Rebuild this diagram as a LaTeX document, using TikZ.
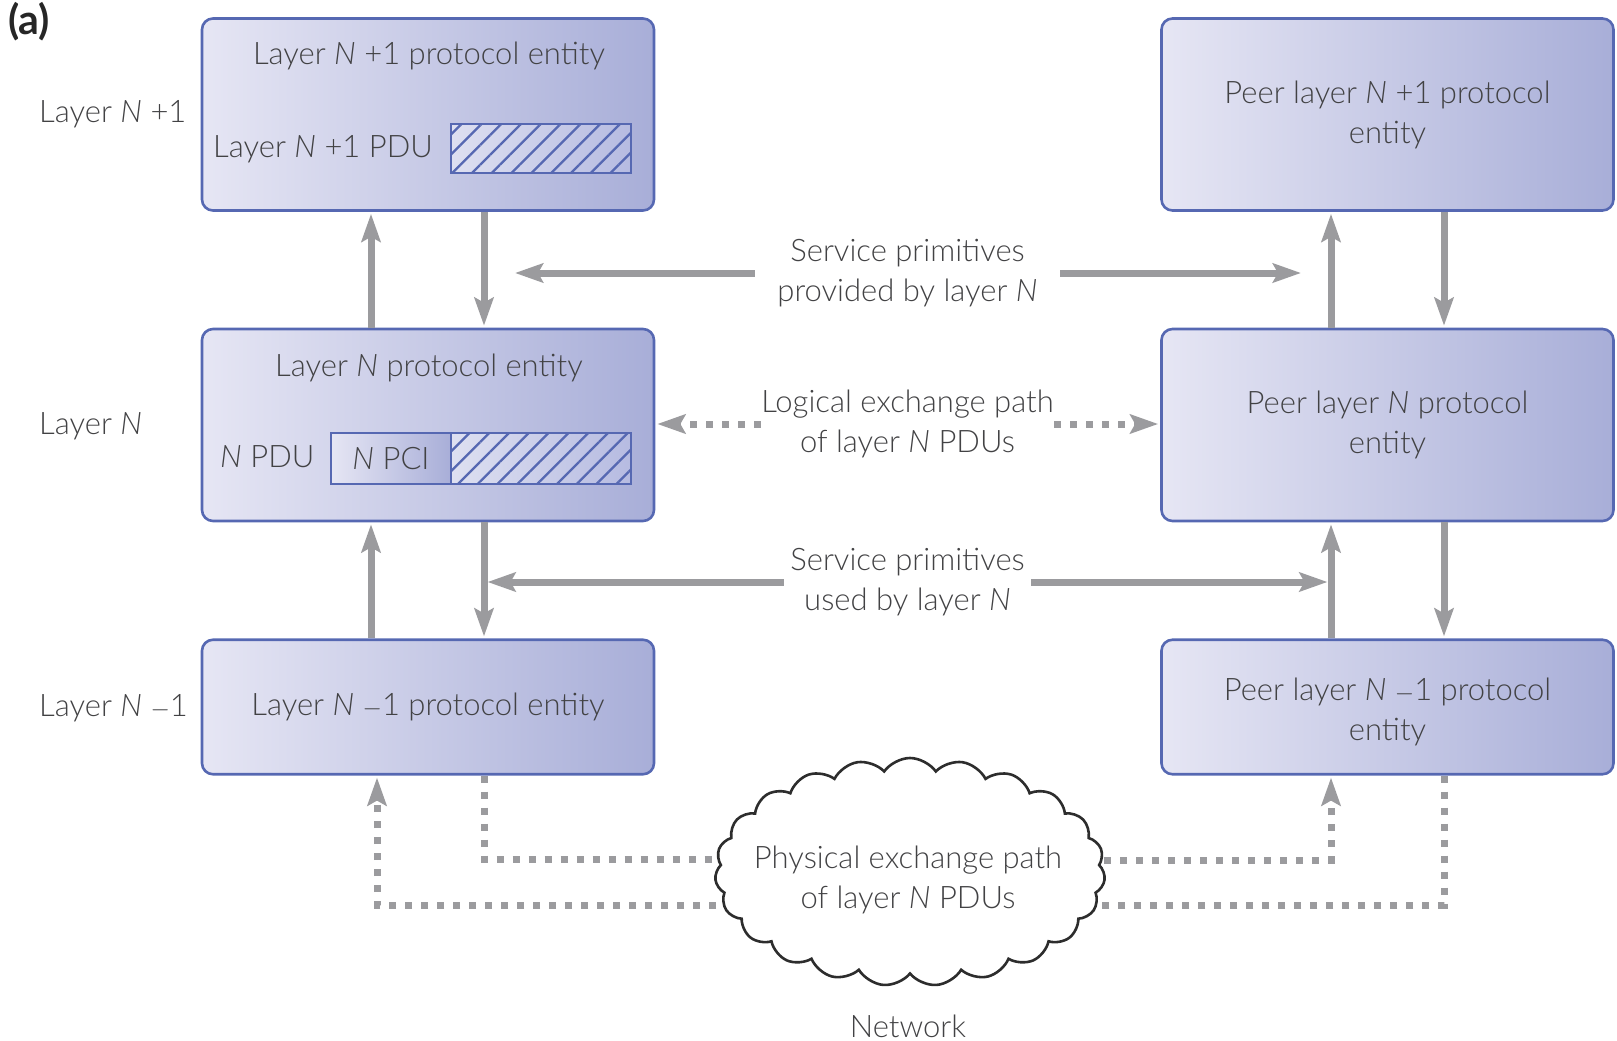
\documentclass[tikz,border=0pt]{standalone}
\usepackage{fontspec}
\setmainfont{Lato}[UprightFont=* Light, ItalicFont=* Light Italic, BoldFont=* Bold, BoldItalicFont=* Bold Italic]
\usetikzlibrary{arrows.meta,shapes.symbols,patterns.meta}

\definecolor{boxL}{RGB}{230,230,244}
\definecolor{boxR}{RGB}{168,174,216}
\definecolor{hatchL}{RGB}{222,224,241}
\definecolor{hatchR}{RGB}{182,187,225}
\definecolor{edge}{RGB}{86,104,178}
\definecolor{flow}{RGB}{155,155,158}
\definecolor{ink}{RGB}{66,66,68}
\definecolor{cloudink}{RGB}{45,45,45}

\newcommand\lblfont{\fontsize{31}{40}\selectfont}

\tikzset{
  entity/.style={rectangle, rounded corners=11pt, draw=edge, line width=2.6pt,
    left color=boxL, right color=boxR, minimum width=452pt, inner sep=0pt,
    font=\lblfont, text=ink, align=center},
  hatchbox/.style={rectangle, inner sep=0pt, left color=hatchL, right color=hatchR,
    postaction={pattern={Lines[angle=45,distance=14pt,line width=2.3pt]}, pattern color=edge},
    postaction={draw=edge, line width=2.6pt}},
  pcibox/.style={rectangle, inner sep=0pt, left color=boxL, right color=boxR,
    draw=edge, line width=2.6pt, font=\lblfont, text=ink},
  lbl/.style={font=\lblfont, text=ink, inner sep=0pt},
  caption/.style={font=\lblfont, text=ink, inner sep=0pt, align=center},
  solidflow/.style={draw=flow, line width=7pt,
    -{Stealth[length=28pt,width=19pt,inset=5pt]}, shorten >=2pt},
  dotline/.style={draw=flow, line width=7pt, dash pattern=on 7pt off 9pt},
  dotflow/.style={dotline, -{Stealth[length=28pt,width=19pt,inset=5pt]}, shorten >=2pt},
}

\begin{document}
\begin{tikzpicture}[x=1pt,y=-1pt]
\useasboundingbox (0,0) rectangle (1617,1041);

% columns of the vertical flows
\coordinate (uL) at (371,0);
\coordinate (dL) at (484,0);
\coordinate (inL) at (377,0);
\coordinate (uR) at (1331,0);
\coordinate (dR) at (1444,0);

% local protocol entities
\node[entity, minimum height=192pt] (A) at (428,114.5) {};
\node[entity, minimum height=192pt] (B) at (428,425) {};
\node[entity, minimum height=134.5pt] (C) at (428,707) {Layer \textit{N} $-$1 protocol entity};

% peer protocol entities
\node[entity, minimum height=192pt] (Ap) at (1387.5,114.5) {Peer layer \textit{N} +1 protocol\\entity};
\node[entity, minimum height=192pt] (Bp) at (1387.5,425) {Peer layer \textit{N} protocol\\entity};
\node[entity, minimum height=134.5pt] (Cp) at (1387.5,707) {};
\node[caption] (CpT) at (1387.5,712) {Peer layer \textit{N} $-$1 protocol\\entity};

% contents of the layer N+1 entity
\node[lbl, anchor=base] (AT) at (429,65) {Layer \textit{N} +1 protocol entity};
\node[lbl, anchor=base west] (AP) at (213,157) {Layer \textit{N} +1 PDU};
\node[hatchbox, minimum width=180pt, minimum height=49pt] (AH) at (541,148.5) {};

% contents of the layer N entity
\node[lbl, anchor=base] (BT) at (429,376) {Layer \textit{N} protocol entity};
\node[lbl, anchor=base west] (BP) at (220,467) {\textit{N} PDU};
\node[pcibox, minimum width=120pt, minimum height=51pt] (PCI) at (391,458.5) {};
\node[lbl, anchor=base] (PCIT) at (391,469) {\textit{N} PCI};
\node[hatchbox, minimum width=180pt, minimum height=51pt] (BH) at (541,458.5) {};

% layer names
\node[lbl, anchor=base west] (L1) at (39,122) {Layer \textit{N} +1};
\node[lbl, anchor=base west] (L0) at (39,434) {Layer \textit{N}};
\node[lbl, anchor=base west] (Lm) at (39,716) {Layer \textit{N} $-$1};
\node[anchor=base west, inner sep=0pt, font=\fontsize{41}{48}\selectfont\bfseries, text=black!85] (tag) at (8,35) {(a)};

% service primitive flows, local side
\draw[solidflow] (B.north -| uL) -- (A.south -| uL);
\draw[solidflow] (A.south -| dL) -- (B.north -| dL);
\draw[solidflow] (C.north -| uL) -- (B.south -| uL);
\draw[solidflow] (B.south -| dL) -- (C.north -| dL);

% service primitive flows, peer side
\draw[solidflow] (Bp.north -| uR) -- (Ap.south -| uR);
\draw[solidflow] (Ap.south -| dR) -- (Bp.north -| dR);
\draw[solidflow] (Cp.north -| uR) -- (Bp.south -| uR);
\draw[solidflow] (Bp.south -| dR) -- (Cp.north -| dR);

% captions between the two stacks
\node[caption, minimum width=305pt] (Sp) at (907.5,273) {Service primitives\\provided by layer \textit{N}};
\node[caption, minimum width=293pt] (Lg) at (907.5,424) {Logical exchange path\\of layer \textit{N} PDUs};
\node[caption, minimum width=247pt] (Su) at (907.5,582) {Service primitives\\used by layer \textit{N}};

\draw[solidflow, shorten >=31pt] (Sp.west) -- (dL |- Sp.west);
\draw[solidflow, shorten >=30pt] (Sp.east) -- (uR |- Sp.east);
\draw[solidflow, shorten >=3.5pt] (Su.west) -- (dL |- Su.west);
\draw[solidflow, shorten >=3.5pt] (Su.east) -- (uR |- Su.east);
\draw[dotflow] (Lg.west) -- (B.east |- Lg.west);
\draw[dotflow] (Lg.east) -- (Bp.west |- Lg.east);

% physical exchange through the network
\coordinate (cl1) at (780,859);
\coordinate (cl2) at (780,905);
\coordinate (cl3) at (1040,860);
\coordinate (cl4) at (1040,905);
\draw[dotline] (C.south -| dL) |- (cl1);
\draw[dotflow] (cl2) -| (C.south -| inL);
\draw[dotflow] (cl3) -| (Cp.south -| uR);
\draw[dotline] (Cp.south -| dR) |- (cl4);

\node[cloud, cloud puffs=23, cloud puff arc=110, aspect=1.72, draw=cloudink,
  line width=2.6pt, fill=white, minimum width=390pt, minimum height=228pt,
  inner sep=0pt] (Net) at (910,872) {};
\node[caption] (NetT) at (908,880) {Physical exchange path\\of layer \textit{N} PDUs};
\node[lbl, anchor=base] (NetL) at (908,1037) {Network};
\end{tikzpicture}
\end{document}
